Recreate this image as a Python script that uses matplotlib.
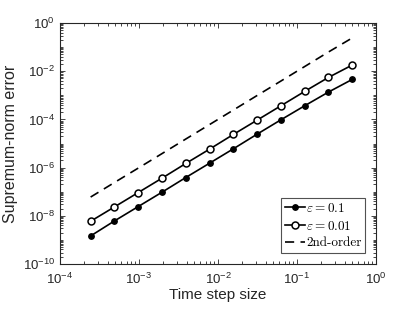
import matplotlib
matplotlib.use("Agg")
import matplotlib.pyplot as plt
from matplotlib.ticker import LogLocator, FixedLocator, FixedFormatter, NullFormatter

dt = [2**-12, 2**-11, 2**-10, 2**-9, 2**-8, 2**-7, 2**-6, 2**-5, 2**-4, 2**-3, 2**-2, 2**-1]
err_eps01 = [1.46e-9, 6.1e-9, 2.41e-8, 9.5e-8, 3.87e-7, 1.52e-6, 6.0e-6, 2.44e-5, 9.6e-5, 3.67e-4, 1.36e-3, 4.56e-3]
err_eps001 = [5.93e-9, 2.33e-8, 9.2e-8, 3.63e-7, 1.48e-6, 5.82e-6, 2.37e-5, 9.3e-5, 3.67e-4, 1.45e-3, 5.52e-3, 1.80e-2]
ref_2nd = [6.0e-8, 2.4e-7, 9.5e-7, 3.8e-6, 1.53e-5, 6.1e-5, 2.44e-4, 9.8e-4, 3.9e-3, 1.56e-2, 6.25e-2, 2.4e-1]
labels = [r'$\varepsilon = 0.1$', r'$\varepsilon = 0.01$', '2nd-order']
xticks = [1e-4, 1e-3, 1e-2, 1e-1, 1e0]
xticklabels = [r'$\mathregular{10^{-4}}$', r'$\mathregular{10^{-3}}$', r'$\mathregular{10^{-2}}$',
               r'$\mathregular{10^{-1}}$', r'$\mathregular{10^{0}}$']
yticks = [1e-10, 1e-8, 1e-6, 1e-4, 1e-2, 1e0]
yticklabels = [r'$\mathregular{10^{-10}}$', r'$\mathregular{10^{-8}}$', r'$\mathregular{10^{-6}}$',
               r'$\mathregular{10^{-4}}$', r'$\mathregular{10^{-2}}$', r'$\mathregular{10^{0}}$']

plt.rcParams['font.family'] = ['Liberation Sans', 'DejaVu Sans']
plt.rcParams['mathtext.fontset'] = 'cm'
gray = '#262626'

fig = plt.figure(figsize=(4.15, 3.12), dpi=100)
ax = fig.add_axes([60/415, 1-264/312, (376-60)/415, (264-23)/312])

ax.loglog(dt, err_eps01, '-', color='black', lw=1.2, marker='o', ms=3.9,
          mfc='black', mec='black', label=labels[0])
ax.loglog(dt, err_eps001, '-', color='black', lw=1.2, marker='o', ms=5.0,
          mfc='white', mec='black', mew=1.1, label=labels[1])
ax.loglog(dt, ref_2nd, '--', color='black', lw=1.2, dashes=(5.5, 3.8), label=labels[2])

ax.set_xlim(1e-4, 1e0)
ax.set_ylim(1e-10, 1e0)
ax.xaxis.set_major_locator(FixedLocator(xticks))
ax.xaxis.set_major_formatter(FixedFormatter(xticklabels))
ax.yaxis.set_major_locator(FixedLocator(yticks))
ax.yaxis.set_major_formatter(FixedFormatter(yticklabels))
ax.xaxis.set_minor_locator(LogLocator(base=10, subs=range(2, 10), numticks=20))
ax.yaxis.set_minor_locator(LogLocator(base=10, subs=range(1, 10), numticks=30))
ax.xaxis.set_minor_formatter(NullFormatter())
ax.yaxis.set_minor_formatter(NullFormatter())
ax.tick_params(which='both', direction='in', top=True, right=True, width=0.6,
               color=gray, labelcolor=gray)
ax.tick_params(which='major', length=3.5, labelsize=9.5)
ax.tick_params(axis='x', which='major', pad=5.5)
ax.tick_params(axis='y', which='major', pad=3.5)
ax.tick_params(which='minor', length=2)
for s in ax.spines.values():
    s.set_linewidth(0.8)
    s.set_color(gray)

ax.set_xlabel('Time step size', fontsize=11, labelpad=1, color=gray)
ax.set_ylabel('Supremum-norm error', fontsize=11.5, color=gray)
ax.yaxis.set_label_coords(-0.133, 0.5)

leg = ax.legend(loc='lower right', frameon=True, fancybox=False,
                edgecolor=gray, handlelength=1.5, handletextpad=0.1,
                borderpad=0.3, labelspacing=0.35, borderaxespad=0.8,
                prop={'family': 'cmr10', 'size': 9.5})
leg.get_frame().set_linewidth(0.8)

fig.savefig('out.png', dpi=100)
